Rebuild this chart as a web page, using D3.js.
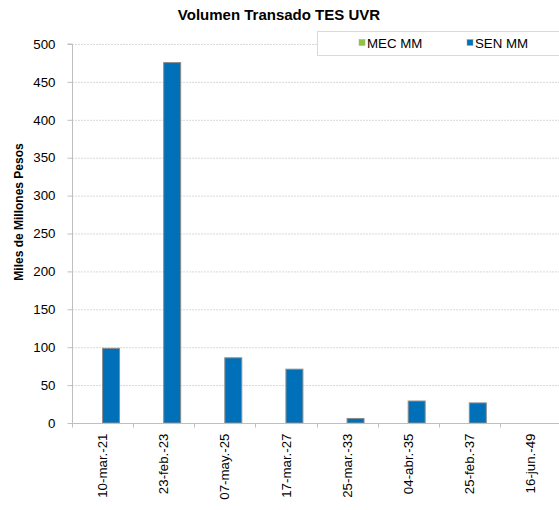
<!DOCTYPE html>
<html><head><meta charset="utf-8">
<script src="https://cdn.jsdelivr.net/npm/d3@7"></script>
<style>body{margin:0;background:#fff;}svg{display:block;font-family:"Liberation Sans",Arial,sans-serif;}</style>
</head><body>
<svg id="c" width="559" height="510"></svg>
<script>
const categories = ["10-mar.-21","23-feb.-23","07-may.-25","17-mar.-27","25-mar.-33","04-abr.-35","25-feb.-37","16-jun.-49"];
const mecValues = [0,0,0,0,0,0,0,0];
const senValues = [98.5,475.5,86,71,6,29,26.5,0];
const seriesNames = ["MEC MM","SEN MM"];
const seriesColors = ["#8CC63F","#0070B8"];
const yTicks = [0,50,100,150,200,250,300,350,400,450,500];

const svg = d3.select("#c");
const m = {left:72, right:561, top:44, bottom:423};
const x = d3.scaleBand().domain(categories).range([m.left, m.right]);
const bw = x.bandwidth();
const inner = d3.scaleBand().domain(seriesNames).range([0, bw]).paddingInner(0).paddingOuter(0.8);
const y = d3.scaleLinear().domain([0,500]).range([m.bottom, m.top]);

// gridlines
svg.append("g").selectAll("line").data(yTicks.filter(d=>d>0)).join("line")
  .attr("x1", m.left).attr("x2", m.right)
  .attr("y1", d=>y(d)+0.5).attr("y2", d=>y(d)+0.5)
  .attr("stroke","#d9d9d9").attr("stroke-dasharray","2,1");

// y axis
const ya = svg.append("g").attr("transform",`translate(${m.left+0.5},0)`)
  .call(d3.axisLeft(y).tickValues(yTicks).tickSize(5).tickPadding(12));
ya.select(".domain").attr("stroke","#bfbfbf").attr("d",`M-5,${m.top}H0V${m.bottom}`);
ya.selectAll(".tick line").attr("stroke","#bfbfbf");
ya.selectAll("text").attr("font-size","13.3px").attr("fill","#000").attr("font-family","Liberation Sans, Arial, sans-serif");

// bars
const data = categories.map((c,i)=>({c, vals:[mecValues[i], senValues[i]]}));
const g = svg.append("g");
data.forEach(d=>{
  d.vals.forEach((v,j)=>{
    if (v<=0) return;
    g.append("rect")
      .attr("x", x(d.c)+inner(seriesNames[j]))
      .attr("width", inner.bandwidth())
      .attr("y", y(v)).attr("height", y(0)-y(v))
      .attr("fill", seriesColors[j]).attr("stroke","#8c8c8c").attr("stroke-width",1);
  });
});

// x axis
const xa = svg.append("g").attr("transform",`translate(0,${m.bottom+0.5})`)
  .call(d3.axisBottom(x).tickSize(0));
xa.select(".domain").attr("stroke","#bfbfbf").attr("d",`M${m.left},0H${m.right}`);
const tickPos = categories.map(c=>x(c)).concat([m.right]);
xa.selectAll(".xt").data(tickPos).join("line").attr("class","xt")
  .attr("x1",d=>Math.round(d)+0.5).attr("x2",d=>Math.round(d)+0.5).attr("y1",0).attr("y2",4).attr("stroke","#bfbfbf");
xa.selectAll(".tick text")
  .attr("transform","rotate(-90)")
  .attr("x",-10).attr("y",0).attr("dy","0.35em")
  .attr("text-anchor","end")
  .attr("font-size","13.3px").attr("fill","#000").attr("font-family","Liberation Sans, Arial, sans-serif");

// title
svg.append("text").attr("x",279).attr("y",20).attr("text-anchor","middle")
  .attr("font-weight","bold").attr("font-size","15px").text("Volumen Transado TES UVR");

// y title
svg.append("text").attr("transform","translate(23,212) rotate(-90)").attr("text-anchor","middle")
  .attr("font-weight","bold").attr("font-size","12px").text("Miles de Millones Pesos");

// legend
svg.append("rect").attr("x",317.5).attr("y",31.5).attr("width",250).attr("height",24)
  .attr("fill","#fff").attr("stroke","#d9d9d9");
const lx = [359, 467];
seriesNames.forEach((n,i)=>{
  svg.append("rect").attr("x",lx[i]).attr("y",39.5).attr("width",6).attr("height",6)
    .attr("fill",seriesColors[i]).attr("stroke","#a6a6a6").attr("stroke-width",0.5);
  svg.append("text").attr("x",lx[i]+8).attr("y",48).attr("font-size","13.3px").text(n);
});
</script>
</body></html>
